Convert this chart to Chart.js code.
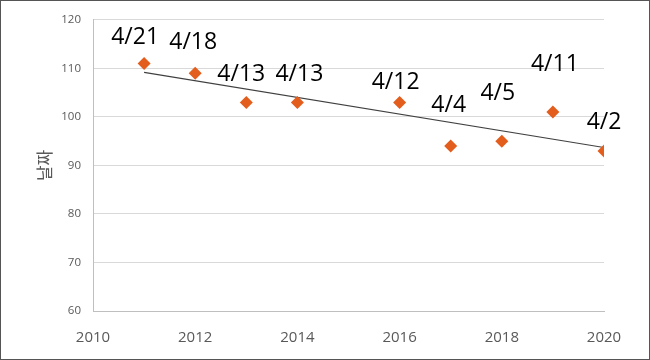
<!DOCTYPE html>
<html>
<head>
<meta charset="utf-8">
<script src="https://cdn.jsdelivr.net/npm/chart.js@4/dist/chart.umd.min.js"></script>
<style>
  html, body { margin: 0; padding: 0; background: #fff; }
  #wrap { width: 650px; height: 360px; box-sizing: border-box; border: 1px solid #555; position: relative; }
</style>
</head>
<body>
<div id="wrap"><canvas id="chart" width="648" height="358"></canvas></div>
<script>
// 연도별 날짜 (1월 1일부터 센 일수)
const years = [2011, 2012, 2013, 2014, 2016, 2017, 2018, 2019, 2020];
const dayValues = [111, 109, 103, 103, 103, 94, 95, 101, 93];
const dateLabels = ["4/21", "4/18", "4/13", "4/13", "4/12", "4/4", "4/5", "4/11", "4/2"];

// 추세선 끝점
const trendYears = [2011, 2020];
const trendValues = [109.2, 93.7];

const points = years.map((x, i) => ({ x: x, y: dayValues[i] }));
const trend = trendYears.map((x, i) => ({ x: x, y: trendValues[i] }));

// 라벨 위치 조정 (엑셀에서 손으로 옮긴 것처럼 점마다 다름) [dx, dy] 픽셀
const labelShift = [[-9, -26], [-2, -31], [-5, -28], [2, -28], [-4, -20], [-2, -41], [-4, -48], [2, -48], [0, -28]];

// 점 위에 날짜 라벨 그리기
const pointLabels = {
    id: "pointLabels",
    afterDatasetsDraw(chart) {
        const meta = chart.getDatasetMeta(0);
        const ctx = chart.ctx;
        ctx.save();
        ctx.font = "23px 'Open Sans', 'Noto Sans', sans-serif";
        ctx.fillStyle = "#000";
        ctx.textAlign = "center";
        ctx.textBaseline = "middle";
        meta.data.forEach((pt, i) => {
            const s = labelShift[i];
            ctx.fillText(dateLabels[i], pt.x + s[0], pt.y + s[1]);
        });
        ctx.restore();
    }
};

new Chart(document.getElementById("chart"), {
    type: "scatter",
    data: {
        datasets: [
            {
                label: "날짜",
                data: points,
                pointStyle: "rectRot",
                pointRadius: 6.5,
                pointHoverRadius: 6.5,
                backgroundColor: "#E35D1D",
                borderColor: "#E35D1D",
                borderWidth: 0,
                order: 0
            },
            {
                label: "추세선",
                type: "line",
                data: trend,
                borderColor: "#404040",
                borderWidth: 1.2,
                pointRadius: 0,
                fill: false,
                order: 1
            }
        ]
    },
    options: {
        responsive: false,
        animation: false,
        layout: { padding: { left: 0, top: 18, right: 45, bottom: 0 } },
        plugins: {
            legend: { display: false },
            tooltip: { enabled: false }
        },
        scales: {
            x: {
                type: "linear",
                min: 2010,
                max: 2020,
                ticks: {
                    stepSize: 2,
                    color: "#595959",
                    font: { size: 15, family: "'Open Sans', sans-serif" },
                    padding: 18,
                    callback: v => String(v)
                },
                grid: { display: false, drawTicks: false },
                border: { display: true, color: "#bfbfbf", width: 1 },
                afterFit: s => { s.height = 48; }
            },
            y: {
                min: 60,
                max: 120,
                ticks: {
                    stepSize: 10,
                    color: "#595959",
                    font: { size: 11.5, family: "'Open Sans', sans-serif" },
                    padding: 12
                },
                grid: { color: "#d9d9d9", lineWidth: 1, drawTicks: false },
                border: { display: true, color: "#bfbfbf", width: 1 },
                title: {
                    display: true,
                    text: "날짜",
                    color: "#595959",
                    font: { size: 17, family: "'Noto Sans CJK KR', sans-serif" },
                    padding: { top: 33, bottom: 0 }
                },
                afterFit: s => { s.width = 92; }
            }
        }
    },
    plugins: [pointLabels]
});
</script>
</body>
</html>
